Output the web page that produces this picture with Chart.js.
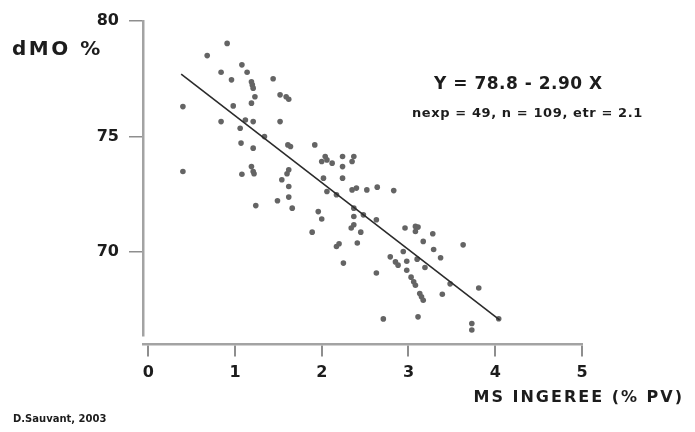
<!DOCTYPE html>
<html>
<head>
<meta charset="utf-8">
<script src="https://cdn.jsdelivr.net/npm/chart.js@4/dist/chart.umd.min.js"></script>
<style>
  html, body { margin: 0; padding: 0; background: #ffffff; }
  #wrap { width: 695px; height: 432px; }
</style>
</head>
<body>
<div id="wrap"><canvas id="c" width="695" height="432"></canvas></div>
<script>
// ---- data ----
const msIngeree = [
  0.40, 0.40, 0.68, 0.91, 0.84, 0.96, 1.08, 1.14, 1.19, 1.20,
  1.21, 1.23, 1.19, 1.44, 1.52, 1.59, 1.62, 0.98, 0.84, 1.12,
  1.21, 1.52, 1.06, 1.07, 1.21, 1.61, 1.64, 1.08, 1.19, 1.21,
  1.22, 1.62, 1.60, 1.54, 1.62, 1.62, 1.49, 1.24, 1.66, 1.92,
  2.00, 2.06, 2.12, 2.04, 2.24, 2.24, 2.37, 2.35, 2.24, 2.02,
  2.35, 2.40, 2.52, 2.64, 2.83, 2.06, 2.17, 1.96, 2.00, 2.37,
  2.37, 2.48, 2.63, 1.89, 2.34, 2.37, 2.45, 2.17, 2.20, 2.41,
  2.25, 2.63, 2.71, 2.96, 3.08, 3.11, 3.08, 3.28, 3.17, 3.63,
  2.94, 3.29, 3.37, 2.79, 2.85, 2.88, 2.98, 2.98, 3.10, 3.19,
  3.03, 3.06, 3.08, 3.13, 3.15, 3.17, 3.39, 3.48, 3.81, 3.11,
  3.73, 3.73, 4.04, 1.34
];
const dMO = [
  76.29, 73.48, 78.50, 79.03, 77.78, 77.45, 78.10, 77.78, 77.37, 77.23,
  77.09, 76.72, 76.44, 77.50, 76.80, 76.72, 76.61, 76.32, 75.64, 75.71,
  75.64, 75.64, 75.35, 74.71, 74.49, 74.63, 74.56, 73.36, 73.69, 73.48,
  73.38, 73.55, 73.38, 73.12, 72.83, 72.37, 72.21, 72.00, 71.89, 74.63,
  73.91, 73.98, 73.84, 74.13, 74.13, 73.69, 74.13, 73.91, 73.19, 73.19,
  72.68, 72.76, 72.68, 72.80, 72.65, 72.61, 72.47, 71.74, 71.42, 71.89,
  71.53, 71.60, 71.39, 70.85, 71.03, 71.17, 70.85, 70.23, 70.35, 70.38,
  69.51, 69.08, 67.09, 71.03, 71.10, 71.07, 70.88, 70.78, 70.45, 70.30,
  70.01, 70.10, 69.74, 69.78, 69.56, 69.42, 69.59, 69.20, 69.68, 69.32,
  68.90, 68.70, 68.55, 68.19, 68.05, 67.90, 68.16, 68.61, 68.43, 67.18,
  66.89, 66.61, 67.10, 74.99
];
// regression line end points as drawn in the picture
const fitX = [0.38, 4.05];
const fitY = [77.70, 67.05];

const xTickValues = [0, 1, 2, 3, 4, 5];
const yTickValues = [70, 75, 80];

const yTitle = "dMO %";
const xTitle = "MS INGEREE (% PV)";
const equationText = "Y = 78.8 - 2.90 X";
const statsText = "nexp = 49, n = 109, etr = 2.1";
const creditText = "D.Sauvant, 2003";

// ---- build chart ----
const points = msIngeree.map((x, i) => ({ x: x, y: dMO[i] }));
const fitLine = fitX.map((x, i) => ({ x: x, y: fitY[i] }));

const FONT = "'DejaVu Sans', 'Liberation Sans', sans-serif";
const TEXT = '#1c1c1c';
const AXIS = '#a3a3a3';

const textPlugin = {
  id: 'textPlugin',
  afterDraw(chart) {
    const ctx = chart.ctx;
    function put(txt, x, y, size, align, spacing) {
      ctx.save();
      ctx.font = 'bold ' + size + 'px ' + FONT;
      ctx.fillStyle = TEXT;
      ctx.textBaseline = 'middle';
      ctx.textAlign = align;
      if ('letterSpacing' in ctx) ctx.letterSpacing = spacing + 'px';
      ctx.fillText(txt, x, y);
      ctx.restore();
    }
    put(yTitle, 12, 50, 20, 'left', 2.5);
    put(equationText, 434, 85, 17, 'left', 0.5);
    put(statsText, 412, 114, 13, 'left', 0.6);
    put(xTitle, 684, 398, 16, 'right', 2);
    put(creditText, 13, 419, 10, 'left', 0);
  }
};

new Chart(document.getElementById('c'), {
  data: {
    datasets: [
      {
        type: 'line',
        data: fitLine,
        borderColor: '#2b2b2b',
        borderWidth: 1.6,
        pointRadius: 0,
        fill: false,
        tension: 0
      },
      {
        type: 'scatter',
        data: points,
        pointRadius: 2.8,
        pointBackgroundColor: '#646464',
        pointBorderWidth: 0
      }
    ]
  },
  options: {
    responsive: false,
    animation: false,
    devicePixelRatio: 1,
    layout: { padding: { left: 0, top: 21, right: 113, bottom: 96 } },
    plugins: { legend: { display: false }, tooltip: { enabled: false } },
    scales: {
      x: {
        type: 'linear',
        position: { y: 66.0 },
        min: -0.06,
        max: 5,
        afterBuildTicks: (s) => { s.ticks = xTickValues.map(v => ({ value: v })); },
        border: { display: true, color: AXIS, width: 2.5 },
        grid: { drawOnChartArea: false, drawTicks: true, tickLength: 11, color: '#8e8e8e', lineWidth: 2 },
        ticks: {
          color: TEXT,
          font: { family: FONT, size: 16, weight: 'bold' },
          padding: 8,
          maxRotation: 0
        }
      },
      y: {
        type: 'linear',
        position: 'left',
        min: 66.35,
        max: 80,
        afterBuildTicks: (s) => { s.ticks = yTickValues.map(v => ({ value: v })); },
        afterFit: (s) => { s.width = 143; },
        border: { display: true, color: AXIS, width: 2.5 },
        grid: { drawOnChartArea: false, drawTicks: true, tickLength: 14, color: '#8e8e8e', lineWidth: 1.5 },
        ticks: {
          color: TEXT,
          font: { family: FONT, size: 16, weight: 'bold' },
          padding: 10
        }
      }
    }
  },
  plugins: [textPlugin]
});
</script>
</body>
</html>
